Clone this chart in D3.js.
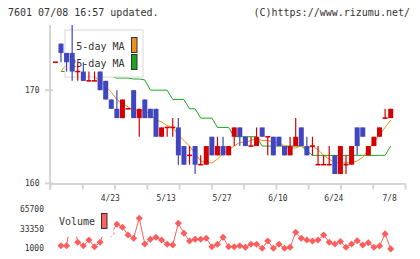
<!DOCTYPE html>
<html>
<head>
<meta charset="utf-8">
<script src="https://cdn.jsdelivr.net/npm/d3@7"></script>
<style>
  body { margin: 0; background: #fff; }
  text { font-family: "DejaVu Sans Mono", monospace; fill: #333; }
</style>
</head>
<body>
<script>
// daily candles, index 0 .. 60 (last = 7/8)
const open  = [173,175,174,174,172,172,171,171,172,171,169,168,167,168,170,167,169,168,168,165,166,166,166,164,163,164,162,162,165,163,164,163,165,166,165,164,164,166,165,165,165,164,163,164,166,164,164,162,162,162,163,161,162,162,166,166,163,164,165,167,167];
const high  = [173,175,174,177,173,173,172,172,172,171,169,170,169,168,170,168,169,168,168,166,166,167,167,164,164,164,163,164,165,165,165,164,166,166,165,165,166,166,165,165,165,164,165,167,166,165,165,164,163,164,163,164,163,164,166,166,164,165,166,168,168];
const low   = [173,173,172,171,171,171,171,171,170,169,168,167,167,168,167,165,167,167,165,165,165,165,162,162,162,161,162,162,163,163,163,163,164,164,164,164,164,165,163,163,164,163,163,164,164,163,163,162,162,162,161,161,161,162,163,165,163,164,165,167,167];
const close = [173,174,173,172,172,171,171,171,170,169,168,167,169,168,167,168,167,167,165,166,166,166,163,162,163,162,162,164,163,164,163,164,166,165,164,164,165,165,165,163,164,163,164,165,164,163,164,162,162,162,161,164,162,164,164,165,164,165,166,167,168];

const ma5  = [null,172.0,172.8,172.8,172.8,172.4,171.8,171.4,171.0,170.4,169.8,169.0,168.6,168.2,167.8,167.8,167.8,167.4,166.8,166.6,166.2,166.0,165.2,164.6,164.0,163.2,162.4,162.2,162.2,162.6,163.2,163.6,164.0,164.4,164.4,164.6,164.8,164.6,164.6,164.4,164.4,164.0,163.8,163.8,164.0,163.8,164.0,163.6,163.0,162.6,162.2,162.2,162.2,162.2,162.4,162.8,163.6,164.4,165.2,166.0,166.8];
const ma25 = [null,172.0,172.0,171.9,171.8,171.7,171.6,171.6,171.6,171.5,171.5,171.3,171.3,171.3,171.2,171.2,171.1,170,170,170,170,169,169,169,168,168,167,167,167,166,166,166,165,165,165,165,165,164,164,164,164,164,164,164,164,163.5,163,163,163,163,163,163,163,163,163,163,163,163,163,163,164];

const volume = [null,5300,5300,58000,10900,5300,14700,3600,10900,35300,25200,40500,35600,22900,17500,50400,8100,15800,19100,14700,7600,6400,42200,25700,13000,15800,15800,17500,3600,7600,19100,3600,3600,5300,2700,7600,7600,1000,13000,1000,7600,1000,2700,27300,17500,14700,13000,14700,22900,10900,8100,12100,2700,8100,13500,6400,10200,2700,4800,24700,0];

const dateIdx = [10, 20, 30, 40, 50, 60];
const dateLabels = ['4/23', '5/13', '5/27', '6/10', '6/24', '7/8'];
const priceTicks = [160, 170];
const volTicks = [1000, 33350, 65700];

const UP = '#d40000';
const DOWN = '#3f46bf';
const GRID = '#d4d4d4';

const svg = d3.select('body').append('svg')
    .attr('width', 420)
    .attr('height', 259);

const x = d3.scaleLinear().domain([0, 60]).range([55.4, 390.7]);
const y = d3.scaleLinear().domain([160, 177]).range([183.3, 25]);
const yv = d3.scaleLinear().domain([1000, 65700]).range([248.3, 209]);
const frame = d3.scaleLinear().domain([0, 11]).range([50, 405]);

// header
svg.append('text').attr('x', 8).attr('y', 16).style('font-size', '10px')
    .text('7601 07/08 16:57 updated.');
svg.append('text').attr('x', 410).attr('y', 16).attr('text-anchor', 'end').style('font-size', '10px')
    .text('(C)https://www.rizumu.net/');

/* axes */
const xAxis = svg.append('g')
    .attr('transform', 'translate(0,183.5)')
    .call(d3.axisBottom(frame).tickValues(d3.range(12)).tickFormat('').tickSize(6).tickSizeOuter(0));
xAxis.selectAll('path, line').attr('stroke', GRID).attr('stroke-width', 2);

svg.append('line')
    .attr('x1', 50).attr('x2', 50).attr('y1', 25).attr('y2', 189.5)
    .attr('stroke', GRID).attr('stroke-width', 2);

svg.selectAll('.ptick').data(priceTicks).join('line')
    .attr('x1', 45).attr('x2', 53)
    .attr('y1', d => y(d)).attr('y2', d => y(d))
    .attr('stroke', GRID).attr('stroke-width', 2);

svg.selectAll('.plabel').data(priceTicks).join('text')
    .attr('x', 39.5).attr('y', d => y(d) + 3)
    .attr('text-anchor', 'end').style('font-size', '8px')
    .text(d => d);

svg.selectAll('.dlabel').data(dateIdx).join('text')
    .attr('x', d => x(d) - 1).attr('y', 201)
    .attr('text-anchor', 'middle').style('font-size', '8px')
    .text((d, i) => dateLabels[i]);

svg.selectAll('.vlabel').data(volTicks).join('text')
    .attr('x', 44).attr('y', d => yv(d) + 3)
    .attr('text-anchor', 'end').style('font-size', '8px')
    .text(d => d);

/* moving averages */
const maLine = d3.line()
    .defined(d => d != null)
    .x((d, i) => x(i))
    .y(d => y(d));

svg.append('path').datum(ma25).attr('d', maLine)
    .attr('fill', 'none').attr('stroke', '#1fa51f').attr('stroke-width', 1);
svg.append('path').datum(ma5).attr('d', maLine)
    .attr('fill', 'none').attr('stroke', '#f0901a').attr('stroke-width', 1);

/* price legend */
const leg = svg.append('g');
leg.append('rect').attr('x', 65).attr('y', 30).attr('width', 78).attr('height', 47)
    .attr('fill', '#fff').attr('stroke', '#d8d8d8');
leg.append('text').attr('x', 124.5).attr('y', 49.5).attr('text-anchor', 'end')
    .style('font-size', '10px').text('5-day MA');
leg.append('text').attr('x', 124.5).attr('y', 67).attr('text-anchor', 'end')
    .style('font-size', '10px').text('25-day MA');
leg.append('rect').attr('x', 131.5).attr('y', 37.5).attr('width', 5.5).attr('height', 15)
    .attr('fill', '#f0901a').attr('stroke', '#333');
leg.append('rect').attr('x', 131.5).attr('y', 54.5).attr('width', 5.5).attr('height', 15)
    .attr('fill', '#1fa51f').attr('stroke', '#333');

/* candles */
const idx = d3.range(close.length);
const col = i => close[i] >= open[i] ? UP : DOWN;

svg.selectAll('.wick').data(idx).join('line')
    .attr('x1', i => x(i)).attr('x2', i => x(i))
    .attr('y1', i => y(high[i])).attr('y2', i => y(low[i]))
    .attr('stroke', col).attr('stroke-width', 1.2);

svg.selectAll('.body').data(idx).join('rect')
    .attr('x', i => x(i) - 2.5)
    .attr('width', 5)
    .attr('y', i => open[i] === close[i] ? y(close[i]) - 0.8 : y(Math.max(open[i], close[i])))
    .attr('height', i => open[i] === close[i] ? 1.6 : Math.abs(y(open[i]) - y(close[i])))
    .attr('fill', col);

/* volume */
const vLine = d3.line()
    .defined(d => d != null)
    .x((d, i) => x(i))
    .y(d => yv(d));

svg.append('path').datum(volume).attr('d', vLine)
    .attr('fill', 'none').attr('stroke', '#ff5c5c').attr('stroke-width', 1);

const diamond = d3.symbol().type(d3.symbolDiamond2).size(32);
svg.selectAll('.vpt').data(idx.filter(i => volume[i] != null)).join('path')
    .attr('d', diamond)
    .attr('transform', i => `translate(${x(i)},${yv(volume[i])})`)
    .attr('fill', '#ff5c5c');

const vleg = svg.append('g');
vleg.append('rect').attr('x', 55).attr('y', 210).attr('width', 58.5).attr('height', 26.5)
    .attr('fill', '#fff');
vleg.append('text').attr('x', 59).attr('y', 225).style('font-size', '10px').text('Volume');
vleg.append('rect').attr('x', 101.5).attr('y', 213.5).attr('width', 5.5).attr('height', 15)
    .attr('fill', '#ff6060').attr('stroke', '#333');
</script>
</body>
</html>
